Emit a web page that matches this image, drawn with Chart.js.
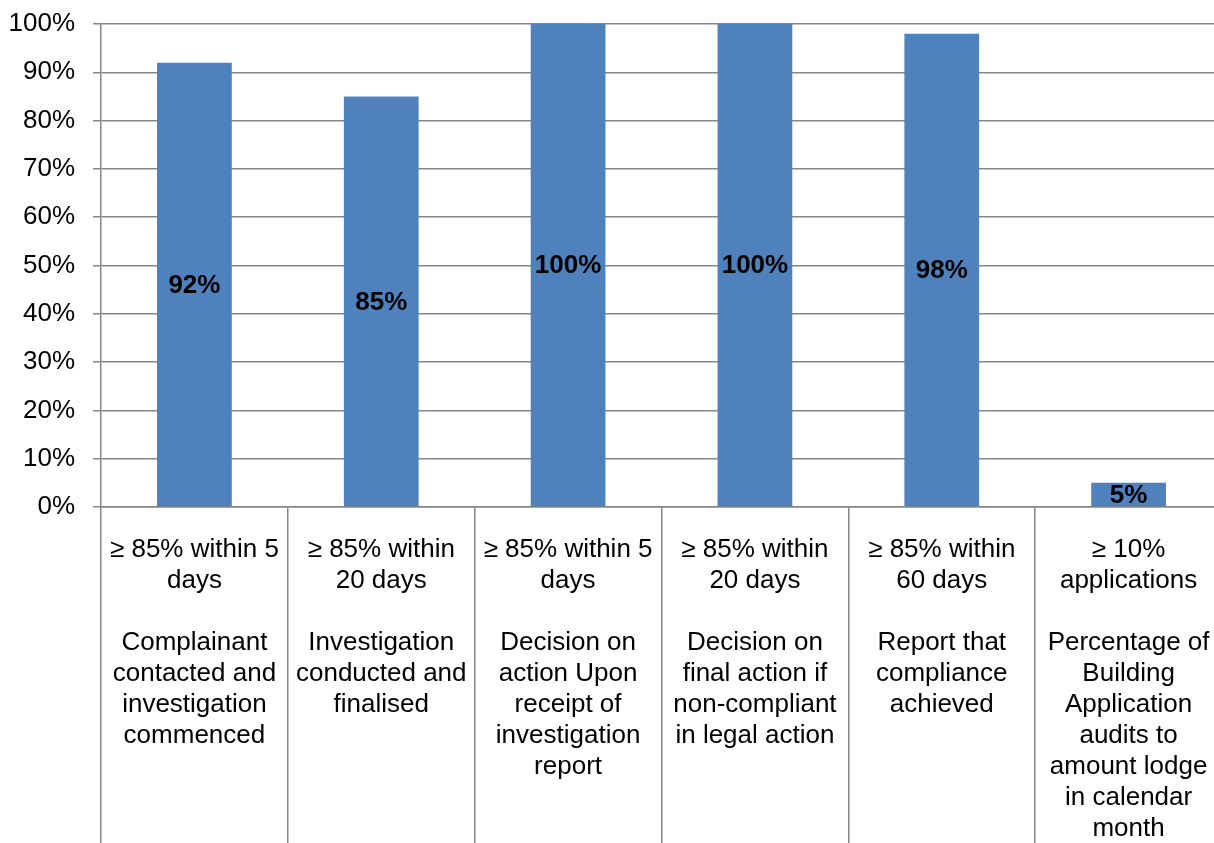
<!DOCTYPE html>
<html>
<head>
<meta charset="utf-8">
<script src="https://cdn.jsdelivr.net/npm/chart.js@4/dist/chart.umd.min.js"></script>
<style>
  html, body { margin: 0; padding: 0; background: #fff; overflow: hidden; }
  #wrap { position: absolute; left: 0; top: 0; width: 1222px; height: 843px; }
</style>
</head>
<body>
<div id="wrap"><canvas id="c" width="1222" height="843"></canvas></div>
<script>
// ---- data ----
const targets = [
  ["≥ 85% within 5", "days"],
  ["≥ 85% within", "20 days"],
  ["≥ 85% within 5", "days"],
  ["≥ 85% within", "20 days"],
  ["≥ 85% within", "60 days"],
  ["≥ 10%", "applications"]
];
const measures = [
  ["Complainant", "contacted and", "investigation", "commenced"],
  ["Investigation", "conducted and", "finalised"],
  ["Decision on", "action Upon", "receipt of", "investigation", "report"],
  ["Decision on", "final action if", "non-compliant", "in legal action"],
  ["Report that", "compliance", "achieved"],
  ["Percentage of", "Building", "Application", "audits to", "amount lodge", "in calendar", "month"]
];
const values = [92, 85, 100, 100, 98, 5];
const yTicks = [0, 10, 20, 30, 40, 50, 60, 70, 80, 90, 100];

const categories = targets.map((t, i) => t.concat([""], measures[i]));

const GRID = '#868686';
const FONT = '"Liberation Sans", Arial, sans-serif';

const dataLabels = {
  id: 'dataLabels',
  afterDatasetsDraw(chart) {
    const ctx = chart.ctx;
    const meta = chart.getDatasetMeta(0);
    ctx.save();
    ctx.font = 'bold 26px ' + FONT;
    ctx.fillStyle = '#000';
    ctx.textAlign = 'center';
    ctx.textBaseline = 'middle';
    meta.data.forEach((bar, i) => {
      const y = (bar.y + bar.base) / 2 + 1;
      ctx.fillText(values[i] + '%', bar.x, y);
    });
    ctx.restore();
  }
};

new Chart(document.getElementById('c'), {
  type: 'bar',
  data: {
    labels: categories,
    datasets: [{
      data: values,
      backgroundColor: '#4F81BD',
      borderWidth: 0,
      categoryPercentage: 1.0,
      barPercentage: 0.4
    }]
  },
  options: {
    responsive: false,
    animation: false,
    layout: { padding: { top: 24, right: 0, bottom: 0, left: 0 } },
    plugins: { legend: { display: false }, tooltip: { enabled: false } },
    scales: {
      x: {
        offset: true,
        grid: {
          display: true,
          offset: true,
          drawOnChartArea: false,
          drawTicks: true,
          tickLength: 336,
          color: GRID,
          lineWidth: 1.5
        },
        border: { display: true, color: GRID, width: 1.5 },
        ticks: {
          autoSkip: false,
          maxRotation: 0,
          minRotation: 0,
          padding: -309,
          color: '#000',
          font: { family: FONT, size: 26, lineHeight: 31 / 26 }
        },
        afterFit(scale) { scale.height = 336; }
      },
      y: {
        min: 0,
        max: 100,
        afterBuildTicks(scale) { scale.ticks = yTicks.map(v => ({ value: v })); },
        grid: {
          color: GRID,
          lineWidth: 1.5,
          tickLength: 8,
          drawTicks: true
        },
        border: { display: true, color: GRID, width: 1.5 },
        ticks: {
          padding: 18,
          color: '#000',
          font: { family: FONT, size: 26, lineHeight: 0.4 },
          callback: v => v + '%'
        },
        afterFit(scale) { scale.width = 101; }
      }
    }
  },
  plugins: [dataLabels]
});
</script>
</body>
</html>
